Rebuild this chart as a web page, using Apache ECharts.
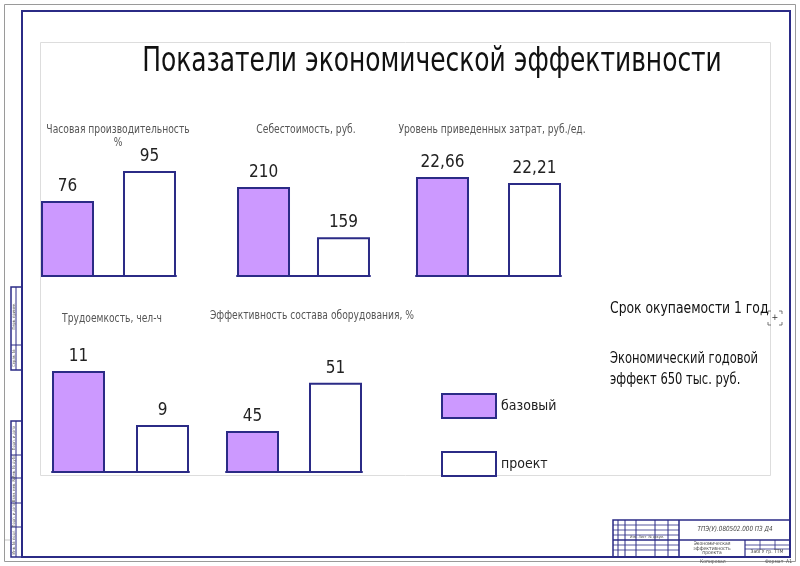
<!DOCTYPE html>
<html><head><meta charset="utf-8">
<script src="https://cdn.jsdelivr.net/npm/echarts@6/dist/echarts.min.js"></script>
<style>html,body{margin:0;padding:0;background:#fff}#c{width:800px;height:566px}</style>
</head><body><div id="c"></div>
<script>
const seriesNames = ['базовый', 'проект'];
const chartTitles = ['Часовая производительность\n%', 'Себестоимость, руб.', 'Уровень приведенных затрат, руб./ед.', 'Трудоемкость, чел-ч', 'Эффективность состава оборудования, %'];
const baseValues = [76, 210, 22.66, 11, 45];
const projectValues = [95, 159, 22.21, 9, 51];
const mainTitle = 'Показатели экономической эффективности';
const sideNotes = ['Срок окупаемости 1 год', 'Экономический годовой', 'эффект 650 тыс. руб.'];

const FONT = '"DejaVu Sans Condensed","Liberation Sans Narrow",sans-serif';
const BLUE = '#2b2b86';
const PURPLE = '#cc99ff';

// layout per panel: left, width, top(baseline-126), axis min/max, title position
const panels = [
  {left: 41, width: 135, top: 150, min: 28.5, max: 108.3, tx: 118, ty: 130},
  {left: 237, width: 133, top: 150, min: 119.5, max: 247.6, tx: 306, ty: 130},
  {left: 416, width: 145, top: 150, min: 15.2, max: 24.69, tx: 492, ty: 130},
  {left: 52, width: 137, top: 346, min: 7.26, max: 11.93, tx: 112, ty: 319},
  {left: 226, width: 136, top: 346, min: 39.9, max: 55.57, tx: 312, ty: 316}
];
const BW = 53;

const grid = [], xAxis = [], yAxis = [], series = [];
panels.forEach((p, i) => {
  grid.push({left: p.left, width: p.width, top: p.top, height: 126, containLabel: false});
  xAxis.push({type: 'category', gridIndex: i, data: [''], axisTick: {show: false}, axisLabel: {show: false},
    axisLine: {show: true, lineStyle: {color: BLUE, width: 2}}, splitLine: {show: false}});
  yAxis.push({type: 'value', gridIndex: i, min: p.min, max: p.max, show: false, splitLine: {show: false}});
  const gap = ((p.width - 2 * BW) / BW * 100).toFixed(1) + '%';
  const lbl = {show: true, position: 'top', distance: 6, color: '#222', fontFamily: FONT, fontSize: 17,
    formatter: (d) => String(d.value).replace('.', ',')};
  series.push({name: seriesNames[0], type: 'bar', xAxisIndex: i, yAxisIndex: i, barWidth: BW, barGap: gap,
    data: [baseValues[i]], itemStyle: {color: PURPLE, borderColor: BLUE, borderWidth: 2}, label: lbl, silent: true});
  series.push({name: seriesNames[1], type: 'bar', xAxisIndex: i, yAxisIndex: i, barWidth: BW, barGap: gap,
    data: [projectValues[i]], itemStyle: {color: '#ffffff', borderColor: BLUE, borderWidth: 2}, label: lbl, silent: true});
});

const g = [];
// sheet frames
g.push({type: 'rect', shape: {x: 4.5, y: 4.5, width: 791, height: 557}, style: {fill: 'none', stroke: '#9a9a9a', lineWidth: 1}, z: 1});
g.push({type: 'rect', shape: {x: 22, y: 11, width: 768, height: 546}, style: {fill: 'none', stroke: BLUE, lineWidth: 2}, z: 1});
g.push({type: 'rect', shape: {x: 40.5, y: 42.5, width: 730, height: 433}, style: {fill: 'none', stroke: '#dddddd', lineWidth: 1}, z: 1});
function box(x, y, w, h, lw) { g.push({type: 'rect', shape: {x, y, width: w, height: h}, style: {fill: 'none', stroke: BLUE, lineWidth: lw || 1}, z: 1}); }
function line(x1, y1, x2, y2, lw, c, dash) { g.push({type: 'line', shape: {x1, y1, x2, y2}, style: {stroke: c || BLUE, lineWidth: lw || 1, lineDash: dash || null}, z: 1}); }
// left stamp boxes
box(11, 287, 11, 83, 1.5); line(16, 287, 16, 370); line(11, 345, 22, 345);
box(11, 421, 11, 136, 1.5); line(16, 421, 16, 557);
[455, 478, 503, 527].forEach(y => line(11, y, 22, y));
function vtext(x, y, t) { g.push({type: 'text', x, y, rotation: Math.PI / 2, style: {text: t, fill: '#555', font: '4px ' + FONT, textAlign: 'center', textVerticalAlign: 'middle'}, z: 2}); }
vtext(14, 316, 'Перв. примен.'); vtext(14, 358, 'Справ. №'); vtext(14, 438, 'Подп. и дата'); vtext(14, 466, 'Инв. № дубл.');
vtext(14, 490, 'Взам. инв. №'); vtext(14, 515, 'Подп. и дата'); vtext(14, 542, 'Инв. № подл.');
line(5, 540, 11, 540, 0.5, '#888');
// title block
box(613, 520, 177, 37, 1.5);
[618, 625, 636, 655, 668].forEach(x => line(x, 520, x, 557));
line(679, 520, 679, 557, 1.5);
[525, 530, 535, 545, 550].forEach(y => line(613, y, 679, y, 0.8));
line(613, 540, 790, 540, 1.5);
line(745, 540, 745, 557, 1.2);
line(745, 545, 790, 545, 0.8); line(745, 549, 790, 549, 0.8);
line(760, 540, 760, 549, 0.8); line(775, 540, 775, 549, 0.8);
function tx(x, y, t, size, color, align, sx, extra) {
  g.push({type: 'text', x, y, scaleX: sx || 1, style: {text: t, fill: color || '#222', font: (extra || '') + size + 'px ' + FONT,
    textAlign: align || 'left', textVerticalAlign: 'middle'}, z: 3});
}
tx(735, 529, 'ТПЭ(У).080502.000 ПЗ Д4', 7, '#444', 'center', 0.9, 'italic ');
tx(712, 544, 'Экономическая', 5, '#444', 'center');
tx(712, 548.5, 'эффективность', 5, '#444', 'center');
tx(712, 553, 'проекта', 5, '#444', 'center');
tx(767, 552, 'ЗабГУ гр. ТТМ', 5, '#444', 'center');
tx(630, 537.5, 'Изм. Лист  № докум.', 3.5, '#444', 'left');
tx(700, 562, 'Копировал', 5, '#555', 'left');
tx(765, 562, 'Формат  А1', 5, '#555', 'left');
// cursor mark
tx(775, 318, '+', 9, '#333', 'center');
line(768, 311, 771, 311, 0.8, '#555'); line(768, 311, 768, 314, 0.8, '#555');
line(779, 311, 782, 311, 0.8, '#555'); line(782, 311, 782, 314, 0.8, '#555');
line(768, 325, 771, 325, 0.8, '#555'); line(768, 322, 768, 325, 0.8, '#555');
line(779, 325, 782, 325, 0.8, '#555'); line(782, 322, 782, 325, 0.8, '#555');
// texts
tx(432, 62, mainTitle, 34, '#111', 'center', 0.815);
panels.forEach((p, i) => {
  const parts = chartTitles[i].split('\n');
  parts.forEach((t, k) => tx(p.tx, p.ty + k * 13, t, 12, '#555', 'center', 0.85));
});
tx(610, 309, sideNotes[0], 16, '#111', 'left', 0.86);
tx(610, 359, sideNotes[1], 16, '#111', 'left', 0.8);
tx(610, 380, sideNotes[2], 16, '#111', 'left', 0.8);

const chart = echarts.init(document.getElementById('c'), null, {renderer: 'canvas'});
chart.setOption({
  animation: false,
  backgroundColor: '#fff',
  grid, xAxis, yAxis, series,
  legend: {data: seriesNames, orient: 'vertical', left: 441, top: 393, padding: 0, itemWidth: 54, itemHeight: 24, itemGap: 32,
    icon: 'rect', selectedMode: false, itemStyle: {borderColor: BLUE, borderWidth: 2},
    textStyle: {fontFamily: FONT, fontSize: 14, color: '#222'}},
  graphic: g
});
</script></body></html>
